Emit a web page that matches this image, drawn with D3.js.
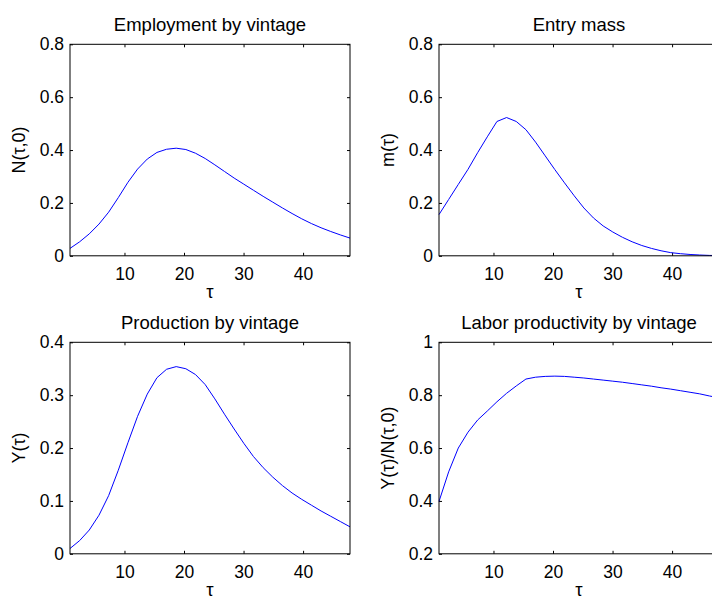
<!DOCTYPE html>
<html>
<head>
<meta charset="utf-8">
<script src="https://cdn.jsdelivr.net/npm/d3@7"></script>
<style>
  body { margin: 0; background: #fff; }
  svg { display: block; }
  text { font-family: "Liberation Sans", Arial, Helvetica, sans-serif; fill: #000; }
</style>
</head>
<body>
<div id="chart"></div>
<script>
// vintage grid (tau)
let tau = [0.85, 2.47, 4.09, 5.72, 7.34, 8.96, 10.58, 12.2, 13.83, 15.45,
  17.07, 18.69, 20.31, 21.93, 23.56, 25.18, 26.8, 28.42, 30.04, 31.66,
  33.29, 34.91, 36.53, 38.15, 39.77, 41.39, 43.02, 44.64, 46.26, 47.88];

// N(tau,0)
let employment = [0.028, 0.053, 0.083, 0.120, 0.165, 0.220, 0.278, 0.328, 0.366, 0.391,
  0.403, 0.407, 0.402, 0.388, 0.368, 0.344, 0.319, 0.294, 0.271, 0.248,
  0.225, 0.203, 0.181, 0.160, 0.140, 0.122, 0.106, 0.092, 0.079, 0.067];

// m(tau)
let entryMass = [0.156, 0.213, 0.270, 0.327, 0.390, 0.450, 0.508, 0.523, 0.508, 0.477,
  0.430, 0.378, 0.326, 0.276, 0.227, 0.181, 0.143, 0.113, 0.090, 0.070,
  0.053, 0.039, 0.028, 0.019, 0.012, 0.008, 0.005, 0.003, 0.0015, 0.001];

// Y(tau)
let production = [0.010, 0.025, 0.045, 0.073, 0.110, 0.158, 0.210, 0.260, 0.302, 0.333,
  0.349, 0.354, 0.350, 0.339, 0.320, 0.293, 0.264, 0.236, 0.209, 0.184,
  0.163, 0.145, 0.129, 0.115, 0.103, 0.092, 0.081, 0.071, 0.061, 0.051];

// Y(tau)/N(tau,0)
let productivity = [0.398, 0.510, 0.600, 0.660, 0.706, 0.740, 0.775, 0.807, 0.835, 0.861,
  0.868, 0.871, 0.872, 0.871, 0.868, 0.865, 0.861, 0.857, 0.853, 0.849,
  0.844, 0.839, 0.834, 0.828, 0.823, 0.817, 0.811, 0.805, 0.797, 0.790];

let xTicks = [10, 20, 30, 40];

let panels = [
  { title: "Employment by vintage", ylabel: "N(\u03c4,0)", values: employment,
    ydomain: [0, 0.8], yticks: [0, 0.2, 0.4, 0.6, 0.8], yfmt: ["0", "0.2", "0.4", "0.6", "0.8"] },
  { title: "Entry mass", ylabel: "m(\u03c4)", values: entryMass,
    ydomain: [0, 0.8], yticks: [0, 0.2, 0.4, 0.6, 0.8], yfmt: ["0", "0.2", "0.4", "0.6", "0.8"] },
  { title: "Production by vintage", ylabel: "Y(\u03c4)", values: production,
    ydomain: [0, 0.4], yticks: [0, 0.1, 0.2, 0.3, 0.4], yfmt: ["0", "0.1", "0.2", "0.3", "0.4"] },
  { title: "Labor productivity by vintage", ylabel: "Y(\u03c4)/N(\u03c4,0)", values: productivity,
    ydomain: [0.2, 1], yticks: [0.2, 0.4, 0.6, 0.8, 1], yfmt: ["0.2", "0.4", "0.6", "0.8", "1"] }
];

let width = 712,
height = 601;

// panel placement
let lefts = [70, 439, 70, 439],
tops = [44.3, 44.3, 342.3, 342.3],
pw = 280,
ph = 211.5;

let svg = d3.select("#chart")
.append("svg")
.attr("width", width)
.attr("height", height);

panels.forEach((p, i) => {
    let g = svg.append("g")
    .attr("transform", "translate(" + lefts[i] + "," + tops[i] + ")");

    let x = d3.scaleLinear()
    .domain([tau[0], tau[tau.length - 1]])
    .range([0, pw]);

    let y = d3.scaleLinear()
    .domain(p.ydomain)
    .range([ph, 0]);

    // bottom axis with labels
    let xb = g.append("g")
    .attr("transform", "translate(0," + ph + ")")
    .call(d3.axisBottom(x).tickValues(xTicks).tickSizeInner(-3).tickSizeOuter(0).tickPadding(12));

    let xt = g.append("g")
    .call(d3.axisTop(x).tickValues(xTicks).tickSizeInner(-3).tickSizeOuter(0).tickFormat(""));

    let yl = g.append("g")
    .call(d3.axisLeft(y).tickValues(p.yticks).tickSizeInner(-3).tickSizeOuter(0).tickPadding(6)
        .tickFormat((d, k) => p.yfmt[k]));

    let yr = g.append("g")
    .attr("transform", "translate(" + pw + ",0)")
    .call(d3.axisRight(y).tickValues(p.yticks).tickSizeInner(-3).tickSizeOuter(0).tickFormat(""));

    [xb, xt, yl, yr].forEach(a => {
        a.select(".domain").remove();
        a.selectAll(".tick line").attr("stroke", "#000").attr("stroke-width", 1);
        a.selectAll("text")
        .attr("fill", "#000")
        .style("font-size", "17.5px")
        .style("font-family", "'Liberation Sans', Arial, Helvetica, sans-serif");
    });

    let line = d3.line()
    .x((d, k) => x(tau[k]))
    .y(d => y(d))
    .curve(d3.curveLinear);

    g.append("path")
    .datum(p.values)
    .attr("d", line)
    .attr("fill", "none")
    .attr("stroke", "#0000ff")
    .attr("stroke-width", 1);

    g.append("rect")
    .attr("x", 0)
    .attr("y", 0)
    .attr("width", pw)
    .attr("height", ph)
    .attr("fill", "none")
    .attr("stroke", "#000")
    .attr("stroke-width", 1);

    g.append("text")
    .attr("x", pw / 2)
    .attr("y", -13.5)
    .attr("text-anchor", "middle")
    .style("font-size", "18.5px")
    .text(p.title);

    g.append("text")
    .attr("x", pw / 2)
    .attr("y", ph + 42)
    .attr("text-anchor", "middle")
    .style("font-size", "18.5px")
    .text("\u03c4");

    g.append("text")
    .attr("transform", "translate(-45," + (ph / 2) + ") rotate(-90)")
    .attr("text-anchor", "middle")
    .style("font-size", "18px")
    .text(p.ylabel);
});
</script>
</body>
</html>
